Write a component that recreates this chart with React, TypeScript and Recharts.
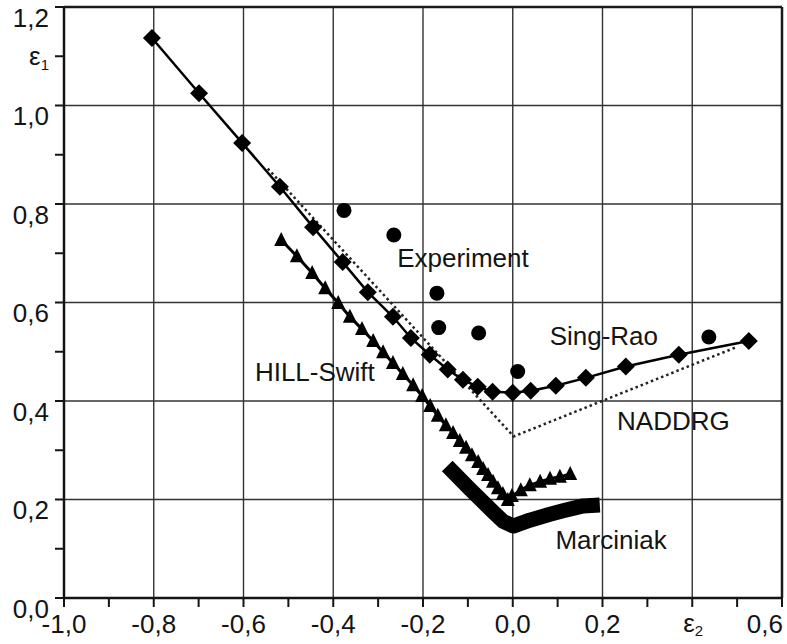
import { ReferenceDot, ReferenceLine, Scatter, ScatterChart, XAxis, YAxis } from "recharts";

const FONT = "'Liberation Sans', Arial, sans-serif";
const INK = "#141414";

// axis ticks (minor every 0.1, labels on the 0.2 steps)
const xTicks = [-1.0, -0.9, -0.8, -0.7, -0.6, -0.5, -0.4, -0.3, -0.2, -0.1, 0.0, 0.1, 0.2, 0.3, 0.4, 0.5, 0.6];
const xTickLabels = ["-1,0", "", "-0,8", "", "-0,6", "", "-0,4", "", "-0,2", "", "0,0", "", "0,2", "", "", "", "0,6"];
const yTicks = [0.0, 0.1, 0.2, 0.3, 0.4, 0.5, 0.6, 0.7, 0.8, 0.9, 1.0, 1.1, 1.2];
const yTickLabels = ["0,0", "", "0,2", "", "0,4", "", "0,6", "", "0,8", "", "1,0", "", "1,2"];
const xGrid = [-0.8, -0.6, -0.4, -0.2, 0.0, 0.2, 0.4];
const yGrid = [0.2, 0.4, 0.6, 0.8, 1.0];
const xSymbolAt = 0.4;
const ySymbolAt = 1.1;

const singRao = [
  { x: -0.804, y: 1.137 },
  { x: -0.699, y: 1.025 },
  { x: -0.603, y: 0.924 },
  { x: -0.519, y: 0.835 },
  { x: -0.445, y: 0.753 },
  { x: -0.379, y: 0.682 },
  { x: -0.323, y: 0.621 },
  { x: -0.267, y: 0.571 },
  { x: -0.227, y: 0.528 },
  { x: -0.185, y: 0.494 },
  { x: -0.145, y: 0.464 },
  { x: -0.111, y: 0.443 },
  { x: -0.078, y: 0.429 },
  { x: -0.045, y: 0.419 },
  { x: 0.0, y: 0.417 },
  { x: 0.04, y: 0.421 },
  { x: 0.096, y: 0.431 },
  { x: 0.163, y: 0.447 },
  { x: 0.252, y: 0.47 },
  { x: 0.37, y: 0.494 },
  { x: 0.526, y: 0.522 },
];

const naddrg = [
  { x: -0.546, y: 0.872 },
  { x: 0.002, y: 0.328 },
  { x: 0.5, y: 0.51 },
];

const experiment = [
  { x: -0.376, y: 0.787 },
  { x: -0.265, y: 0.737 },
  { x: -0.169, y: 0.619 },
  { x: -0.165, y: 0.549 },
  { x: -0.076, y: 0.538 },
  { x: 0.011, y: 0.46 },
  { x: 0.437, y: 0.53 },
];

const hillSwift = [
  { x: -0.516, y: 0.727 },
  { x: -0.481, y: 0.694 },
  { x: -0.447, y: 0.66 },
  { x: -0.418, y: 0.629 },
  { x: -0.389, y: 0.599 },
  { x: -0.363, y: 0.571 },
  { x: -0.336, y: 0.546 },
  { x: -0.311, y: 0.522 },
  { x: -0.289, y: 0.499 },
  { x: -0.267, y: 0.477 },
  { x: -0.245, y: 0.455 },
  { x: -0.222, y: 0.432 },
  { x: -0.202, y: 0.41 },
  { x: -0.184, y: 0.39 },
  { x: -0.167, y: 0.37 },
  { x: -0.149, y: 0.351 },
  { x: -0.133, y: 0.335 },
  { x: -0.118, y: 0.319 },
  { x: -0.104, y: 0.305 },
  { x: -0.091, y: 0.29 },
  { x: -0.077, y: 0.276 },
  { x: -0.066, y: 0.262 },
  { x: -0.055, y: 0.25 },
  { x: -0.044, y: 0.236 },
  { x: -0.033, y: 0.223 },
  { x: -0.022, y: 0.211 },
  { x: -0.011, y: 0.199 },
  { x: -0.002, y: 0.207 },
  { x: 0.018, y: 0.219 },
  { x: 0.038, y: 0.229 },
  { x: 0.061, y: 0.236 },
  { x: 0.083, y: 0.242 },
  { x: 0.105, y: 0.246 },
  { x: 0.128, y: 0.252 },
];

const marciniak = [
  { x: -0.146, y: 0.268 },
  { x: -0.095, y: 0.221 },
  { x: -0.046, y: 0.177 },
  { x: -0.022, y: 0.156 },
  { x: 0.001, y: 0.146 },
  { x: 0.038, y: 0.158 },
  { x: 0.079, y: 0.169 },
  { x: 0.112, y: 0.177 },
  { x: 0.157, y: 0.187 },
  { x: 0.194, y: 0.189 },
];

const notes = [
  { text: "Experiment", x: -0.111, y: 0.69 },
  { text: "Sing-Rao", x: 0.203, y: 0.532 },
  { text: "HILL-Swift", x: -0.441, y: 0.459 },
  { text: "NADDRG", x: 0.358, y: 0.359 },
  { text: "Marciniak", x: 0.219, y: 0.118 },
];

function XTick(props: any) {
  const { x, y, index, payload } = props;
  if (Math.abs(payload.value - xSymbolAt) < 1e-6) {
    return (
      <text x={x - 9} y={y + 25} fontFamily={FONT} fontSize={26} fill={INK}>
        ε<tspan fontSize={15} dy={4}>2</tspan>
      </text>
    );
  }
  const label = xTickLabels[index];
  if (!label) return <g />;
  const last = index === xTickLabels.length - 1;
  return (
    <text
      x={last ? x + 1 : x}
      y={y + 26}
      textAnchor={last ? "end" : "middle"}
      fontFamily={FONT}
      fontSize={26}
      fill={INK}
    >
      {label}
    </text>
  );
}

function YTick(props: any) {
  const { x, y, index, payload } = props;
  if (Math.abs(payload.value - ySymbolAt) < 1e-6) {
    return (
      <text x={x} y={y + 9} textAnchor="end" fontFamily={FONT} fontSize={26} fill={INK}>
        ε<tspan fontSize={15} dy={5}>1</tspan>
      </text>
    );
  }
  const label = yTickLabels[index];
  if (!label) return <g />;
  return (
    <text x={x} y={y + 19.5} textAnchor="end" fontFamily={FONT} fontSize={26} fill={INK}>
      {label}
    </text>
  );
}

const diamond = (p: any) => (
  <polygon
    points={`${p.cx},${p.cy - 9} ${p.cx + 9},${p.cy} ${p.cx},${p.cy + 9} ${p.cx - 9},${p.cy}`}
    fill="#000"
  />
);
const dot = (p: any) => <circle cx={p.cx} cy={p.cy} r={7.5} fill="#000" />;
const triangle = (p: any) => (
  <polygon points={`${p.cx},${p.cy - 8} ${p.cx + 7},${p.cy + 6} ${p.cx - 7},${p.cy + 6}`} fill="#000" />
);
const nothing = () => <g />;

export default function App() {
  return (
    <div style={{ position: "absolute", left: 0, top: 0, background: "#fff" }}>
      <ScatterChart width={787} height={644} margin={{ top: 7, right: 5, left: 0, bottom: 0 }}>
        {yGrid.map((v) => (
          <ReferenceLine key={"gy" + v} y={v} stroke="#333" strokeWidth={1.4} />
        ))}
        {xGrid.map((v) => (
          <ReferenceLine key={"gx" + v} x={v} stroke="#333" strokeWidth={1.4} />
        ))}
        <ReferenceLine y={1.2} stroke="#1a1a1a" strokeWidth={2.5} />
        <ReferenceLine x={0.6} stroke="#1a1a1a" strokeWidth={2.5} />
        <XAxis
          type="number"
          dataKey="x"
          domain={[-1, 0.6]}
          ticks={xTicks}
          interval={0}
          height={46}
          tickSize={9}
          tickMargin={0}
          axisLine={{ stroke: INK, strokeWidth: 2.5 }}
          tickLine={{ stroke: INK, strokeWidth: 2 }}
          tick={<XTick />}
          allowDataOverflow
        />
        <YAxis
          type="number"
          dataKey="y"
          domain={[0, 1.2]}
          ticks={yTicks}
          interval={0}
          width={64}
          tickSize={9}
          tickMargin={6}
          axisLine={{ stroke: INK, strokeWidth: 2.5 }}
          tickLine={{ stroke: INK, strokeWidth: 2 }}
          tick={<YTick />}
          allowDataOverflow
        />
        <Scatter
          data={naddrg}
          fill="#222"
          line={{ stroke: "#222", strokeWidth: 2.5, strokeDasharray: "2.5 3" }}
          shape={nothing}
          isAnimationActive={false}
        />
        <Scatter
          data={marciniak}
          fill="#000"
          line={{ stroke: "#000", strokeWidth: 15, strokeLinejoin: "round" }}
          shape={nothing}
          isAnimationActive={false}
        />
        <Scatter
          data={hillSwift}
          fill="#000"
          line={{ stroke: "#000", strokeWidth: 3 }}
          shape={triangle}
          isAnimationActive={false}
        />
        <Scatter
          data={singRao}
          fill="#000"
          line={{ stroke: "#000", strokeWidth: 2.5 }}
          shape={diamond}
          isAnimationActive={false}
        />
        <Scatter data={experiment} fill="#000" shape={dot} isAnimationActive={false} />
        {notes.map((n) => (
          <ReferenceDot
            key={n.text}
            x={n.x}
            y={n.y}
            r={0}
            shape={(p: any) => (
              <text
                x={p.cx}
                y={p.cy}
                textAnchor="middle"
                dominantBaseline="central"
                fontFamily={FONT}
                fontSize={26}
                fill={INK}
              >
                {n.text}
              </text>
            )}
          />
        ))}
      </ScatterChart>
    </div>
  );
}
